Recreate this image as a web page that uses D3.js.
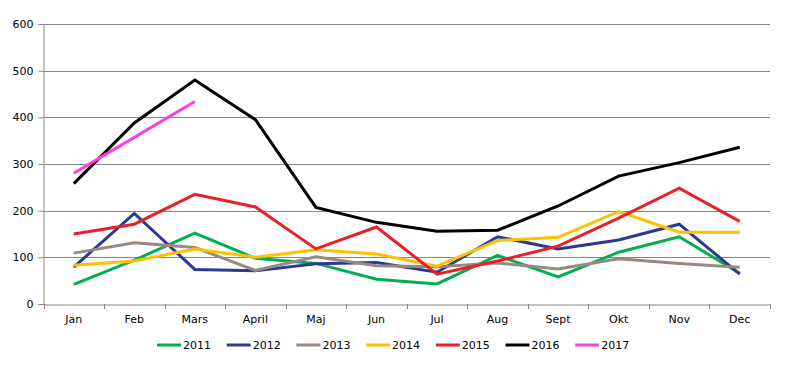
<!DOCTYPE html>
<html><head><meta charset="utf-8">
<script src="https://cdn.jsdelivr.net/npm/d3@7"></script>
<style>body{margin:0;background:#fff}svg{display:block}text{font-family:"DejaVu Sans",Verdana,sans-serif;font-size:11px;fill:#000}</style>
</head><body><svg id="c" width="798" height="381"></svg>
<script>
const months = ["Jan","Feb","Mars","April","Maj","Jun","Jul","Aug","Sept","Okt","Nov","Dec"];
const yTicks = [0,100,200,300,400,500,600];
const years = ["2011","2012","2013","2014","2015","2016","2017"];
const colors = ["#00B050","#2B3990","#9A8882","#FFC000","#E8202A","#000000","#FF40E0"];
const s2011 = [42,94,152,98,87,53,43,104,58,111,144,66];
const s2012 = [79,194,74,71,86,89,68,144,118,137,171,64];
const s2013 = [109,131,121,72,101,82,80,88,75,97,87,79];
const s2014 = [83,92,118,100,116,107,81,136,143,198,154,154];
const s2015 = [150,171,235,208,118,165,64,92,124,184,248,177];
const s2016 = [258,388,480,395,207,175,156,158,210,274,303,336];
const s2017 = [280,357,434];
const series = [s2011,s2012,s2013,s2014,s2015,s2016,s2017];

const svg = d3.select("#c");
const L = 43.5, R = 770, T = 24, B = 304;
const x = d3.scaleBand().domain(months).range([L, R]);
const y = d3.scaleLinear().domain([0,600]).range([B, T]);

// gridlines
svg.append("g").selectAll("line").data(yTicks.filter(d=>d>0)).join("line")
  .attr("x1", L).attr("x2", R).attr("y1", d=>Math.round(y(d))+0.5).attr("y2", d=>Math.round(y(d))+0.5)
  .attr("stroke", "#868686").attr("stroke-width", 1);

// y axis
const ya = svg.append("g").attr("transform", `translate(${L},0)`)
  .call(d3.axisLeft(y).tickValues(yTicks).tickSize(5).tickPadding(5));
ya.select(".domain").attr("stroke", "#868686");
ya.selectAll(".tick line").attr("stroke", "#868686");
ya.selectAll("text").style("font-size","11px").style("font-family","DejaVu Sans, Verdana, sans-serif").attr("fill","#000");

// x axis
const xa = svg.append("g").attr("transform", `translate(0,${B+0.5})`)
  .call(d3.axisBottom(x).tickSize(0).tickPadding(11));
xa.select(".domain").attr("stroke", "#868686");
xa.selectAll("text").style("font-size","11px").style("font-family","DejaVu Sans, Verdana, sans-serif").attr("fill","#000");
const bounds = months.map(m => x(m)).concat([R]);
svg.append("g").selectAll("line").data(bounds).join("line")
  .attr("x1", d=>Math.round(d)+0.5).attr("x2", d=>Math.round(d)+0.5)
  .attr("y1", B).attr("y2", B+5).attr("stroke", "#868686");

// lines
const line = d3.line().x((d,i)=>x(months[i]) + x.bandwidth()/2).y(d=>y(d));
svg.append("g").selectAll("path").data(series).join("path")
  .attr("d", d=>line(d)).attr("fill","none")
  .attr("stroke", (d,i)=>colors[i]).attr("stroke-width", 3).attr("stroke-linejoin","miter");

// legend
const lg = svg.append("g").selectAll("g").data(years).join("g")
  .attr("transform", (d,i)=>`translate(${157 + i*69.7},345)`);
lg.append("line").attr("x1",0).attr("x2",24).attr("y1",0).attr("y2",0)
  .attr("stroke",(d,i)=>colors[i]).attr("stroke-width",3);
lg.append("text").attr("x",26).attr("y",0).attr("dy","0.35em").text(d=>d);
</script></body></html>
